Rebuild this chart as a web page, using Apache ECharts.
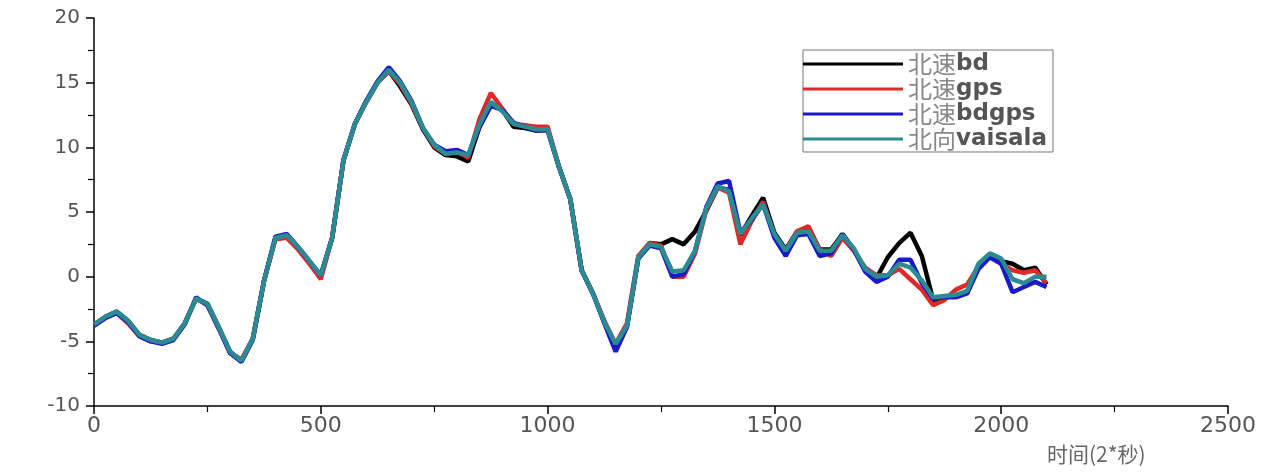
<!DOCTYPE html>
<html><head><meta charset="utf-8">
<script src="https://cdn.jsdelivr.net/npm/echarts@6/dist/echarts.min.js"></script>
<style>html,body{margin:0;padding:0;background:#fff}#c{width:1279px;height:472px}</style>
</head><body><div id="c"></div>
<script>
const timeX = [0,25,50,75,100,125,150,175,200,225,250,275,300,325,350,375,400,425,450,475,500,525,550,575,600,625,650,675,700,725,750,775,800,825,850,875,900,925,950,975,1000,1025,1050,1075,1100,1125,1150,1175,1200,1225,1250,1275,1300,1325,1350,1375,1400,1425,1450,1475,1500,1525,1550,1575,1600,1625,1650,1675,1700,1725,1750,1775,1800,1825,1850,1875,1900,1925,1950,1975,2000,2025,2050,2075,2100];
const vaisala = [-3.7,-3.1,-2.7,-3.4,-4.5,-4.9,-5.1,-4.8,-3.6,-1.7,-2.1,-3.9,-5.8,-6.5,-4.8,-0.3,3.0,3.2,2.3,1.2,0.1,3.0,9.0,11.8,13.5,15.0,16.0,15.0,13.5,11.5,10.2,9.5,9.6,9.4,11.8,13.5,12.8,11.8,11.6,11.4,11.4,8.5,6.0,0.5,-1.3,-3.5,-5.2,-3.8,1.5,2.5,2.3,0.4,0.5,2.0,5.3,7.0,6.6,3.3,4.5,5.6,3.3,2.0,3.4,3.5,2.0,2.0,3.2,2.2,0.6,0.0,0.1,1.0,0.7,-0.3,-1.6,-1.5,-1.4,-1.1,1.0,1.8,1.4,-0.2,-0.5,0.0,0.0];
const bd = [-3.7,-3.1,-2.7,-3.4,-4.5,-4.9,-5.1,-4.8,-3.6,-1.7,-2.1,-3.9,-5.8,-6.5,-4.8,-0.3,3.0,3.1,2.2,1.1,0.1,3.0,9.0,11.8,13.5,15.0,15.9,14.7,13.3,11.4,10.0,9.4,9.3,8.9,11.6,13.3,12.9,11.6,11.5,11.3,11.4,8.5,6.0,0.5,-1.3,-3.5,-5.3,-3.8,1.5,2.6,2.5,2.9,2.5,3.5,5.1,6.9,6.7,3.2,4.7,6.1,3.4,2.1,3.5,3.7,2.1,2.1,3.3,2.1,0.5,-0.1,1.5,2.6,3.4,1.6,-1.8,-1.6,-1.5,-1.2,0.9,1.7,1.2,1.0,0.5,0.7,-0.6];
const gps = [-3.7,-3.2,-2.8,-3.6,-4.6,-5.0,-5.1,-4.8,-3.6,-1.7,-2.2,-4.0,-5.9,-6.4,-4.8,-0.3,2.9,3.0,2.1,1.0,-0.2,3.0,9.0,11.8,13.5,15.0,15.9,14.9,13.4,11.5,10.1,9.5,9.7,9.2,12.2,14.2,13.0,11.8,11.7,11.6,11.6,8.5,6.0,0.5,-1.3,-3.4,-5.2,-3.6,1.6,2.6,2.4,0.0,0.0,1.8,5.2,6.9,6.5,2.5,4.3,5.8,3.2,2.0,3.5,3.9,2.1,1.6,3.0,2.0,0.7,0.1,0.1,0.6,-0.2,-1.0,-2.2,-1.8,-1.0,-0.6,0.8,1.6,1.0,0.5,0.3,0.5,-0.5];
const bdgps = [-3.8,-3.2,-2.8,-3.5,-4.6,-5.0,-5.2,-4.9,-3.7,-1.6,-2.2,-4.0,-5.9,-6.6,-4.9,-0.3,3.1,3.3,2.3,1.2,0.1,3.0,9.0,11.8,13.6,15.1,16.2,15.1,13.6,11.5,10.2,9.7,9.8,9.4,11.6,13.2,12.9,11.9,11.6,11.3,11.3,8.5,6.0,0.5,-1.3,-3.6,-5.8,-3.9,1.4,2.4,2.2,0.0,0.2,2.0,5.4,7.2,7.4,3.4,4.4,5.6,3.0,1.6,3.2,3.3,1.6,1.8,3.3,2.1,0.4,-0.4,0.0,1.3,1.3,-0.5,-1.7,-1.6,-1.6,-1.3,0.6,1.5,1.0,-1.2,-0.8,-0.4,-0.8];

const seriesNames = ['北速bd','北速gps','北速bdgps','北向vaisala'];
const seriesColors = ['#000000','#e02828','#1a1ac8','#2a8c92'];
const seriesData = [bd, gps, bdgps, vaisala];

const chart = echarts.init(document.getElementById('c'), null, {renderer:'canvas'});
const axisCommon = {
  axisLine:{show:true,onZero:false,lineStyle:{color:'#000',width:1.5}},
  axisTick:{show:true,inside:false,length:8,lineStyle:{color:'#000',width:1.5}},
  minorTick:{show:true,splitNumber:2,length:6,lineStyle:{color:'#000',width:1.2}},
  splitLine:{show:false}
};
chart.setOption({
  animation:false,
  backgroundColor:'#fff',
  grid:{left:94,right:51,top:18,bottom:66,containLabel:false},
  xAxis:Object.assign({type:'value',min:0,max:2500,interval:500,
    axisLabel:{color:'#555',fontSize:22,fontFamily:'DejaVu Sans',margin:9,formatter:function(v){return String(v);}}},axisCommon),
  yAxis:Object.assign({type:'value',min:-10,max:20,interval:5,
    axisLabel:{color:'#555',fontSize:20,fontFamily:'DejaVu Sans',margin:14,formatter:function(v){return String(v);}}},axisCommon),
  legend:{
    orient:'vertical',left:803,top:50,
    icon:'rect',
    itemWidth:100,itemHeight:3,itemGap:1,
    padding:[2,6,1,0],
    borderColor:'#777',borderWidth:1,backgroundColor:'#fff',
    data:seriesNames,
    formatter:function(n){const cn=n.slice(0,2);const en=n.slice(2);return '{a|'+cn+'}{b|'+en+'}';},
    textStyle:{lineHeight:21,rich:{
      a:{fontSize:24,color:'#888',fontFamily:'Noto Sans CJK SC',lineHeight:21},
      b:{fontSize:23,color:'#555',fontWeight:'bold',fontFamily:'DejaVu Sans',lineHeight:21}
    }}
  },
  graphic:[{type:'text',left:1047,top:444,style:{text:'时间(2*秒)',fontSize:21,fill:'#666',fontFamily:'Noto Sans CJK SC'}}],
  series:seriesNames.map((n,i)=>({
    name:n,type:'line',symbol:'none',smooth:false,
    data:timeX.map((x,k)=>[x,seriesData[i][k]]),
    lineStyle:{color:seriesColors[i],width:4.5},
    itemStyle:{color:seriesColors[i]},
    z:2+i
  }))
});
</script></body></html>
